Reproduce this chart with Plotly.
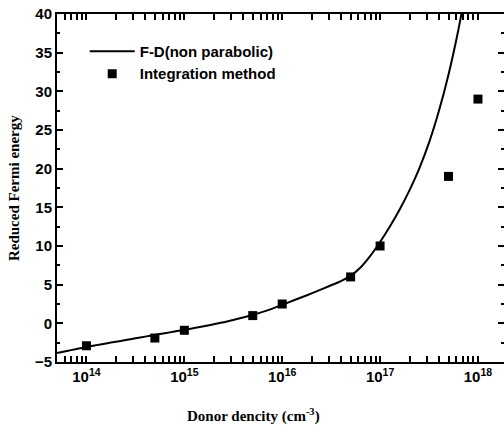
import numpy as np
import plotly.graph_objects as go

# F-D (non parabolic) curve (log10 of donor density, energy)
fd_log_density = [13.7, 13.8, 13.9, 14.0, 14.1, 14.2, 14.3, 14.4, 14.5, 14.6, 14.7,
                  14.8, 14.9, 15.0, 15.1, 15.2, 15.3, 15.4, 15.5, 15.6, 15.7, 15.8,
                  15.9, 16.0, 16.1, 16.2, 16.3, 16.4, 16.5, 16.6, 16.7, 16.8, 16.9,
                  17.0, 17.1, 17.2, 17.3, 17.4, 17.5, 17.6, 17.7, 17.8, 17.86]
fd_energy = [-3.85, -3.58, -3.31, -3.05, -2.82, -2.6, -2.38, -2.16, -1.94, -1.72, -1.5,
             -1.28, -1.06, -0.84, -0.61, -0.37, -0.12, 0.14, 0.42, 0.75, 1.1, 1.48,
             1.9, 2.4, 2.88, 3.37, 3.87, 4.39, 4.92, 5.47, 6.17, 7.22, 8.72,
             10.52, 12.52, 14.72, 17.2, 20.02, 23.37, 27.42, 32.22, 37.97, 42.02]
fd_density = [10.0 ** v for v in fd_log_density]

# Integration method points
int_density = [1e14, 5e14, 1e15, 5e15, 1e16, 5e16, 1e17, 5e17, 1e18]
int_energy = [-2.9, -1.9, -0.9, 1.0, 2.5, 6.0, 10.0, 19.0, 29.0]

x_tickvals = [1e14, 1e15, 1e16, 1e17, 1e18]
x_ticktext = ["10<sup>14</sup>", "10<sup>15</sup>", "10<sup>16</sup>",
              "10<sup>17</sup>", "10<sup>18</sup>"]

minor_vals = [m * 10.0 ** k for k in range(13, 19) for m in range(2, 10)]

fig = go.Figure()
fig.add_trace(go.Scatter(x=fd_density, y=fd_energy, mode="lines",
                         line=dict(color="black", width=2, shape="spline", smoothing=1.0),
                         name="F-D(non parabolic)"))
fig.add_trace(go.Scatter(x=int_density, y=int_energy, mode="markers",
                         marker=dict(symbol="square", size=9, color="black"),
                         name="Integration method"))
fig.add_trace(go.Scatter(x=[None], y=[None], yaxis="y2", showlegend=False,
                         hoverinfo="skip"))

tickfont = dict(family="Liberation Sans, Arial", size=15, color="black", weight="bold")
titlefont = dict(family="Liberation Serif, Times New Roman", size=15, color="black",
                 weight="bold")

fig.update_layout(
    width=504, height=425,
    margin=dict(l=57, r=0, t=14, b=63),
    paper_bgcolor="white", plot_bgcolor="white",
    showlegend=True,
    legend=dict(x=0.062, y=0.94, xanchor="left", yanchor="top",
                bgcolor="rgba(0,0,0,0)", tracegroupgap=0, itemwidth=45,
                font=dict(family="Liberation Sans, Arial", size=15, color="black",
                          weight="bold")),
    xaxis=dict(type="log", range=[np.log10(5e13), 18.266],
               tickmode="array", tickvals=x_tickvals, ticktext=x_ticktext,
               ticks="inside", ticklen=6, tickwidth=2, tickcolor="black",
               showline=True, linewidth=2, linecolor="black", mirror="allticks",
               showgrid=False, zeroline=False, tickfont=tickfont,
               minor=dict(tickmode="array", tickvals=minor_vals, ticks="inside",
                          ticklen=3, tickwidth=1.5, tickcolor="black", showgrid=False)),
    yaxis=dict(range=[-5, 40], tickmode="linear", tick0=-5, dtick=5,
               ticks="inside", ticklen=6, tickwidth=2, tickcolor="black",
               showline=True, linewidth=2, linecolor="black", mirror=False,
               showgrid=False, zeroline=False, tickfont=tickfont,
               minor=dict(dtick=2.5, tick0=-5, ticks="inside", ticklen=3,
                          tickwidth=1.5, tickcolor="black", showgrid=False)),
    yaxis2=dict(range=[-5, 40], overlaying="y", side="right", tickmode="linear",
                tick0=-5, dtick=5, ticks="inside", ticklen=6, tickwidth=2,
                tickcolor="black", showline=False, showgrid=False, zeroline=False,
                showticklabels=False,
                minor=dict(dtick=2.5, tick0=-5, ticks="inside", ticklen=3,
                           tickwidth=1.5, tickcolor="black", showgrid=False)),
    annotations=[
        dict(text="Donor dencity (cm<sup>-3</sup>)", xref="paper", yref="paper",
             x=0.4385, y=-0.155, xanchor="center", yanchor="middle", showarrow=False,
             font=titlefont),
        dict(text="Reduced Fermi energy", xref="paper", yref="paper",
             x=-0.096, y=0.5, xanchor="center", yanchor="middle", showarrow=False,
             textangle=-90, font=titlefont),
    ],
)

fig.write_html("out.html")
